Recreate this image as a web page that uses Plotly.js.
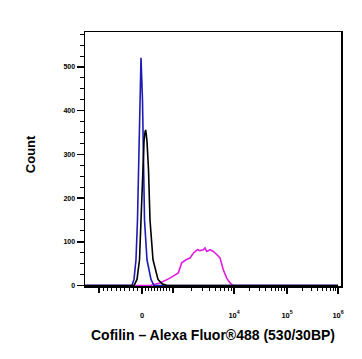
<!DOCTYPE html>
<html>
<head>
<meta charset="utf-8">
<script src="https://cdn.plot.ly/plotly-3.0.1.min.js"></script>
<style>html,body{margin:0;padding:0;background:#fff;}#chart{width:362px;height:359px;}</style>
</head>
<body>
<div id="chart"></div>
<script>
// Fluorescence values (biexponential display) and counts
const blueX   = [-1330, -233, -186, -140, -105, -81, -58, -23, 16, 48, 81, 161, 290, 387, 1000000];
const blueY   = [0, 0, 14, 59, 150, 265, 424, 521, 424, 265, 150, 59, 14, 0, 0];
const blackX  = [-1330, -186, -116, -58, -23, 16, 65, 100, 119, 140, 161, 210, 258, 355, 516, 645, 806, 1000000];
const blackY  = [0, 0, 14, 59, 150, 265, 330, 352, 356, 345, 330, 265, 150, 59, 14, 4, 0, 0];
const pinkX   = [-1330, 258, 581, 903, 1222, 1389, 1634, 1899, 2151, 2502, 2772, 3139, 3346, 3566, 4046, 4583, 5209, 5894, 6680, 7590, 8600, 9740, 1000000];
const pinkY   = [0, 0, 6, 17, 29, 52, 59, 63, 74, 82, 80, 82, 86, 78, 82, 78, 71, 63, 36, 17, 6, 0, 0];
const xLabelVals  = [0, 10000, 100000, 1000000];
const xLabelText  = ["0", "10<sup>4</sup>", "10<sup>5</sup>", "10<sup>6</sup>"];
const xUnlabeledMajor = [-1000, 1000];
const yMajorVals  = [0, 100, 200, 300, 400, 500];

// biexponential-like display transform (FlowJo style axis)
function T(v) {
  if (v < 0) return 43 * v / 1000;
  if (v < 1000) return 31 * v / 1000;
  if (v < 1e4) return 31 + 61 * Math.log10(v / 1000);
  if (v < 1e5) return 92 + 53 * Math.log10(v / 1e4);
  return 145 + 51 * Math.log10(v / 1e5);
}
const minorVals = [];
for (let k = 1; k <= 9; k++) { minorVals.push(-k * 100); minorVals.push(k * 100); }
[1000, 10000, 100000].forEach(d => { for (let k = 2; k <= 9; k++) minorVals.push(k * d); });

const lineW = 1.6;
const traces = [
  {x: pinkX.map(T), y: pinkY, mode: 'lines', line: {color: '#e21ee2', width: lineW}, hoverinfo: 'skip'},
  {x: blueX.map(T), y: blueY, mode: 'lines', line: {color: '#1c1cb4', width: lineW}, hoverinfo: 'skip'},
  {x: blackX.map(T), y: blackY, mode: 'lines', line: {color: '#000000', width: lineW}, hoverinfo: 'skip'},
  {x: [T(-1000)], y: [0], xaxis: 'x2', mode: 'markers', marker: {size: 0, opacity: 0}, hoverinfo: 'skip'}
];

const fam = 'Liberation Sans, Arial, sans-serif';
const layout = {
  width: 362, height: 359,
  margin: {l: 85, r: 21, t: 32, b: 73},
  paper_bgcolor: '#fff', plot_bgcolor: '#fff',
  showlegend: false,
  xaxis: {
    range: [-57, 199], showgrid: false, zeroline: false,
    showline: true, linecolor: '#000', linewidth: 1.5, mirror: true,
    ticks: 'outside', ticklen: 6, tickwidth: 1.5, tickcolor: '#000',
    tickmode: 'array', tickvals: xLabelVals.map(T), ticktext: xLabelText,
    tickfont: {family: fam, size: 7.5, color: '#000', weight: 'bold'}, ticklabelstandoff: 15,
    minor: {tickmode: 'array', tickvals: minorVals.map(T), ticks: 'outside', ticklen: 3, tickwidth: 1, tickcolor: '#000', showgrid: false}
  },
  xaxis2: {
    overlaying: 'x', anchor: 'y', side: 'bottom',
    range: [-57, 199], showgrid: false, zeroline: false, showline: false,
    ticks: 'outside', ticklen: 6, tickwidth: 1.5, tickcolor: '#000',
    tickmode: 'array', tickvals: xUnlabeledMajor.map(T), showticklabels: false
  },
  yaxis: {
    range: [-1, 580], showgrid: false, zeroline: false,
    showline: true, linecolor: '#000', linewidth: 1.5, mirror: true,
    ticks: 'outside', ticklen: 7, tickwidth: 1.5, tickcolor: '#000',
    tickmode: 'array', tickvals: yMajorVals,
    tickfont: {family: fam, size: 7, color: '#000', weight: 'bold'},
    minor: {dtick: 25, ticks: 'outside', ticklen: 4, tickwidth: 1, tickcolor: '#000', showgrid: false}
  },
  annotations: [
    {text: 'Cofilin – Alexa Fluor®488 (530/30BP)', xref: 'paper', yref: 'paper', x: 0.5, y: -0.193,
     xanchor: 'center', yanchor: 'middle', showarrow: false,
     font: {family: fam, size: 14, color: '#000', weight: 'bold'}},
    {text: 'Count', xref: 'paper', yref: 'paper', x: -0.21, y: 0.52, textangle: -90,
     xanchor: 'center', yanchor: 'middle', showarrow: false,
     font: {family: fam, size: 13, color: '#000', weight: 'bold'}}
  ]
};
Plotly.newPlot('chart', traces, layout, {staticPlot: true, displayModeBar: false});
</script>
</body>
</html>
